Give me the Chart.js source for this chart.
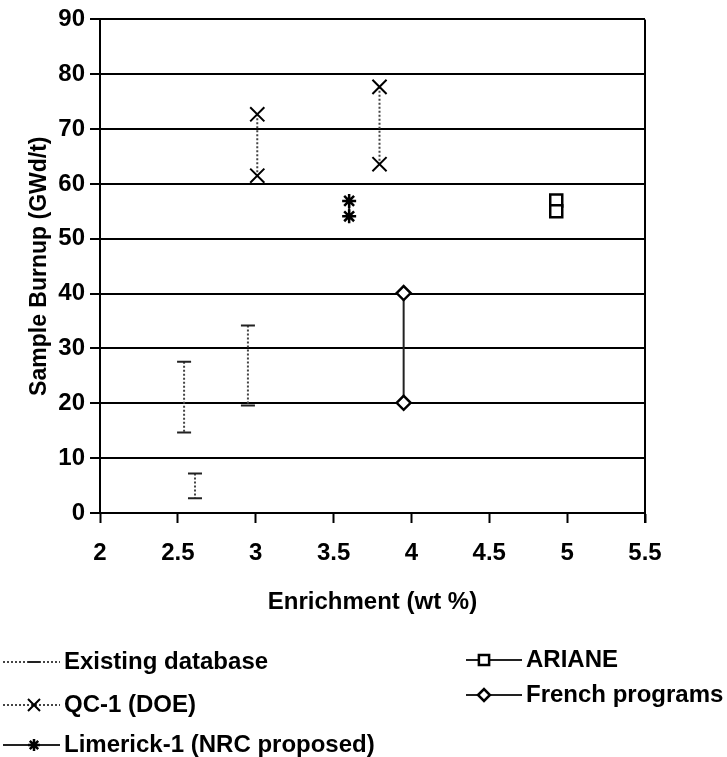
<!DOCTYPE html>
<html>
<head>
<meta charset="utf-8">
<script src="https://cdn.jsdelivr.net/npm/chart.js@4.4.1/dist/chart.umd.min.js"></script>
<style>
  html, body { margin: 0; padding: 0; background: #fff; }
  canvas { display: block; }
</style>
</head>
<body>
<canvas id="graficoBurnup" width="727" height="757"></canvas>
<script>
const xTicks = [2, 2.5, 3, 3.5, 4, 4.5, 5, 5.5];
const yTicks = [0, 10, 20, 30, 40, 50, 60, 70, 80, 90];

// each pair is one vertical range, null splits the ranges
const existingX = [2.54, 2.54, null, 2.61, 2.61, null, 2.95, 2.95];
const existingY = [27.6, 14.7, null, 7.2, 2.7, null, 34.2, 19.6];
const qcX = [3.01, 3.01, null, 3.795, 3.795];
const qcY = [72.7, 61.5, null, 77.7, 63.6];
const limerickX = [3.6, 3.6];
const limerickY = [56.9, 54.1];
const arianeX = [4.93, 4.93];
const arianeY = [57, 55];
const frenchX = [3.95, 3.95];
const frenchY = [40.1, 20.1];

const labels = ['Existing database', 'QC-1 (DOE)', 'Limerick-1 (NRC proposed)', 'ARIANE', 'French programs'];

function toPoints(xs, ys) {
  return xs.map((x, i) => x === null ? { x: xs[i - 1], y: null } : { x: x, y: ys[i] });
}

const fontFamily = '"Liberation Sans", Arial, Helvetica, sans-serif';

// legend spots: line from x0 to x1, marker at mx
const legendSpots = [
  { x0: 3, x1: 60, mx: 34, y: 662 },
  { x0: 3, x1: 60, mx: 34, y: 705 },
  { x0: 3, x1: 60, mx: 34, y: 745 },
  { x0: 466, x1: 522, mx: 484, y: 660 },
  { x0: 466, x1: 522, mx: 484, y: 695 }
];

const legendPlugin = {
  id: 'legendAbaixo',
  afterDraw(chart) {
    const ctx = chart.ctx;
    chart.data.datasets.forEach((ds, i) => {
      const s = legendSpots[i];
      ctx.save();
      ctx.strokeStyle = ds.borderColor;
      ctx.lineWidth = ds.borderWidth;
      ctx.setLineDash(ds.borderDash || []);
      ctx.beginPath();
      ctx.moveTo(s.x0, s.y);
      ctx.lineTo(s.x1, s.y);
      ctx.stroke();
      ctx.setLineDash([]);
      ctx.strokeStyle = ds.pointBorderColor;
      ctx.fillStyle = ds.pointBackgroundColor;
      ctx.lineWidth = ds.pointBorderWidth;
      Chart.helpers.drawPoint(ctx, { pointStyle: ds.pointStyle, radius: ds.pointRadius * 0.85, borderWidth: ds.pointBorderWidth, rotation: 0 }, s.mx, s.y);
      ctx.fillStyle = '#000';
      ctx.font = 'bold 24px ' + fontFamily;
      ctx.textBaseline = 'middle';
      ctx.textAlign = 'left';
      ctx.fillText(ds.label, s.x1 + 4, s.y);
      ctx.restore();
    });
  }
};

const frameRight = {
  id: 'bordaDireita',
  beforeDatasetsDraw(chart) {
    const { ctx, chartArea } = chart;
    ctx.save();
    ctx.strokeStyle = '#000';
    ctx.lineWidth = 2;
    ctx.beginPath();
    ctx.moveTo(chartArea.right, chartArea.top);
    ctx.lineTo(chartArea.right, chartArea.bottom + 10);
    ctx.stroke();
    ctx.restore();
  }
};

const canvas = document.getElementById('graficoBurnup');
new Chart(canvas.getContext('2d'), {
  type: 'scatter',
  data: {
    datasets: [
      { label: labels[0], data: toPoints(existingX, existingY), showLine: true, spanGaps: false,
        borderColor: '#444', borderWidth: 2, borderDash: [2, 2],
        pointStyle: 'line', pointRadius: 7, pointBorderWidth: 2, pointBorderColor: '#222', pointBackgroundColor: '#fff' },
      { label: labels[1], data: toPoints(qcX, qcY), showLine: true, spanGaps: false,
        borderColor: '#444', borderWidth: 2, borderDash: [2, 2],
        pointStyle: 'crossRot', pointRadius: 10, pointBorderWidth: 2, pointBorderColor: '#000', pointBackgroundColor: '#fff' },
      { label: labels[2], data: toPoints(limerickX, limerickY), showLine: true, spanGaps: false,
        borderColor: '#222', borderWidth: 2,
        pointStyle: 'star', pointRadius: 7, pointBorderWidth: 2.5, pointBorderColor: '#000', pointBackgroundColor: '#fff' },
      { label: labels[3], data: toPoints(arianeX, arianeY), showLine: true, spanGaps: false,
        borderColor: '#222', borderWidth: 2,
        pointStyle: 'rect', pointRadius: 8.5, pointBorderWidth: 2.5, pointBorderColor: '#000', pointBackgroundColor: '#fff' },
      { label: labels[4], data: toPoints(frenchX, frenchY), showLine: true, spanGaps: false,
        borderColor: '#222', borderWidth: 2,
        pointStyle: 'rectRot', pointRadius: 7, pointBorderWidth: 2.5, pointBorderColor: '#000', pointBackgroundColor: '#fff' }
    ]
  },
  options: {
    responsive: false,
    animation: false,
    layout: { padding: { top: 16, right: 82, bottom: 134, left: 0 } },
    plugins: { legend: { display: false }, tooltip: { enabled: false } },
    scales: {
      x: {
        type: 'linear', min: 2, max: 5.5,
        afterBuildTicks: axis => { axis.ticks = xTicks.map(v => ({ value: v })); },
        afterFit: axis => { axis.height = 110; },
        ticks: { color: '#000', font: { family: fontFamily, size: 24, weight: 'bold' }, padding: 16, maxRotation: 0, autoSkip: false,
          callback: v => String(v) },
        grid: { drawOnChartArea: false, drawTicks: true, tickLength: 10, tickColor: '#000', tickWidth: 2 },
        border: { color: '#000', width: 2 },
        title: { display: true, text: 'Enrichment (wt %)', color: '#000', font: { family: fontFamily, size: 24, weight: 'bold' }, padding: { top: 0, bottom: 6 } }
      },
      y: {
        type: 'linear', min: 0, max: 90,
        afterBuildTicks: axis => { axis.ticks = yTicks.map(v => ({ value: v })); },
        afterFit: axis => { axis.width = 100; },
        ticks: { color: '#000', font: { family: fontFamily, size: 24, weight: 'bold' }, padding: 5, autoSkip: false },
        grid: { color: '#000', lineWidth: 2, drawTicks: true, tickLength: 10, tickColor: '#000', tickWidth: 2 },
        border: { color: '#000', width: 2 },
        title: { display: true, text: 'Sample Burnup (GWd/t)', color: '#000', font: { family: fontFamily, size: 23, weight: 'bold' }, padding: { top: 26, bottom: 0 } }
      }
    }
  },
  plugins: [legendPlugin, frameRight]
});
</script>
</body>
</html>
